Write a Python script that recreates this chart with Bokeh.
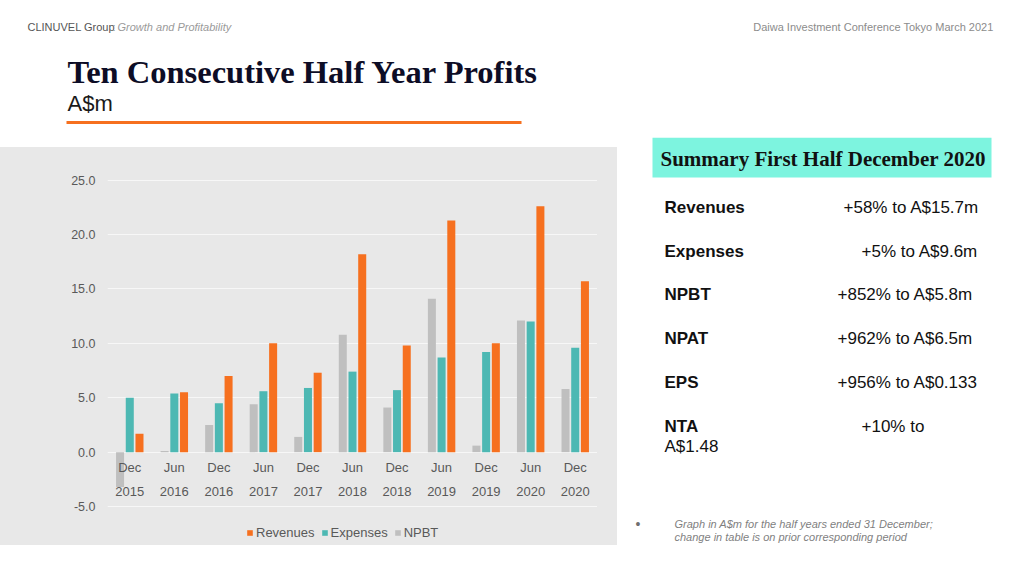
from bokeh.plotting import figure
from bokeh.models import (Range1d, FactorRange, FixedTicker, PrintfTickFormatter,
                          Legend, LegendItem, Spacer, ColumnDataSource)
from bokeh.layouts import column, row
from bokeh.transform import dodge
from bokeh.core.properties import value
from bokeh.embed import file_html
from bokeh.resources import INLINE

# ---------------- data ----------------
months = ["Dec", "Jun", "Dec", "Jun", "Dec", "Jun", "Dec", "Jun", "Dec", "Jun", "Dec"]
years = ["2015", "2016", "2016", "2017", "2017", "2018", "2018", "2019", "2019", "2020", "2020"]
npbt = [-3.2, 0.1, 2.5, 4.4, 1.4, 10.8, 4.1, 14.1, 0.6, 12.1, 5.8]
expenses = [5.0, 5.4, 4.5, 5.6, 5.9, 7.4, 5.7, 8.7, 9.2, 12.0, 9.6]
revenues = [1.7, 5.5, 7.0, 10.0, 7.3, 18.2, 9.8, 21.3, 10.0, 22.6, 15.7]
y_ticks = [-5, 0, 5, 10, 15, 20, 25]

summary_labels = ["Revenues", "Expenses", "NPBT", "NPAT", "EPS", "NTA"]
summary_values = ["+58% to A$15.7m", "+5% to A$9.6m", "+852% to A$5.8m",
                  "+962% to A$6.5m", "+956% to A$0.133", "+10% to"]

categories = [f"{m} {y}" for m, y in zip(months, years)]

ORANGE = "#F6701F"
TEAL = "#4DB8B3"
GRAY = "#BFBFBF"
BG = "#E8E8E8"
AXIS_TXT = "#595959"
SANS = value("Liberation Sans")
SERIF = value("Liberation Serif")


def blank(fig, bg="white", alpha=1.0):
    fig.grid.visible = False
    fig.background_fill_color = bg
    fig.border_fill_color = bg
    fig.background_fill_alpha = alpha
    fig.border_fill_alpha = alpha
    fig.outline_line_color = None
    return fig


# ---------------- header figure ----------------
top = blank(figure(width=1024, height=137, x_range=Range1d(0, 1024), y_range=Range1d(137, 0),
                   toolbar_location=None, output_backend="svg", min_border=0,
                   x_axis_location=None, y_axis_location=None))

top.text(x=[27], y=[26], text=["CLINUVEL Group"], text_font=SANS, text_font_size="11px",
         text_color="#555555", text_baseline="middle", text_align="left")
top.text(x=[112], y=[26], text=[":"], text_font=SANS, text_font_size="11px",
         text_color="#9a9a9a", text_baseline="middle", text_align="left")
top.text(x=[117], y=[26], text=["Growth and Profitability"], text_font=SANS,
         text_font_size="11px", text_font_style="italic", text_color="#9a9a9a",
         text_baseline="middle", text_align="left")
top.text(x=[993], y=[26], text=["Daiwa Investment Conference Tokyo March 2021"],
         text_font=SANS, text_font_size="11px", text_color="#8c8c8c",
         text_baseline="middle", text_align="right")
top.text(x=[67], y=[71], text=["Ten Consecutive Half Year Profits"], text_font=SERIF,
         text_font_size="32.5px", text_font_style="bold", text_color="#0d0d26",
         text_baseline="middle", text_align="left")
top.text(x=[67], y=[103], text=["A$m"], text_font=SANS, text_font_size="22px",
         text_color="#1a1a1a", text_baseline="middle", text_align="left")
top.quad(left=[66], right=[521], top=[120.5], bottom=[123.5], fill_color=ORANGE,
         line_color=None)

# ---------------- chart figure (transparent, gray panel comes from its container) --------
p = figure(width=597, height=398, x_range=FactorRange(factors=categories, range_padding=0),
           y_range=Range1d(-8.58, 28.0), toolbar_location=None, output_backend="svg",
           min_border_left=107, min_border_right=0, min_border_top=0, min_border_bottom=0,
           x_axis_location=None)
blank(p, BG, alpha=0.0)
p.ygrid.visible = True
p.xgrid.visible = False
p.ygrid.grid_line_color = "#F7F7F7"
p.ygrid.grid_line_width = 1.2
p.yaxis.ticker = FixedTicker(ticks=y_ticks)
p.yaxis.formatter = PrintfTickFormatter(format="%.1f")
p.yaxis.axis_line_color = None
p.yaxis.major_tick_line_color = None
p.yaxis.minor_tick_line_color = None
p.yaxis.major_label_standoff = 6
p.yaxis.major_label_text_font = "Liberation Sans"
p.yaxis.major_label_text_font_size = "12.5px"
p.yaxis.major_label_text_color = AXIS_TXT

src = ColumnDataSource(dict(cat=categories, month=months, year=years,
                            npbt=npbt, expenses=expenses, revenues=revenues))
bw = 0.18
off = 0.218
r_npbt = p.vbar(x=dodge("cat", -off, range=p.x_range), top="npbt", bottom=0, width=bw,
                source=src, fill_color=GRAY, line_color=None)
r_exp = p.vbar(x=dodge("cat", 0, range=p.x_range), top="expenses", bottom=0, width=bw,
               source=src, fill_color=TEAL, line_color=None)
r_rev = p.vbar(x=dodge("cat", off, range=p.x_range), top="revenues", bottom=0, width=bw,
               source=src, fill_color=ORANGE, line_color=None)

p.text(x="cat", y=-1.41, text="month", source=src, text_font=SANS, text_font_size="13px",
       text_color=AXIS_TXT, text_align="center", text_baseline="middle")
p.text(x="cat", y=-3.61, text="year", source=src, text_font=SANS, text_font_size="13px",
       text_color=AXIS_TXT, text_align="center", text_baseline="middle")

legend = Legend(items=[LegendItem(label="Revenues", renderers=[r_rev]),
                       LegendItem(label="Expenses", renderers=[r_exp]),
                       LegendItem(label="NPBT", renderers=[r_npbt])],
                orientation="horizontal", location=(139, 5),
                glyph_width=7, glyph_height=7, label_height=7, label_standoff=3,
                spacing=6, padding=0, margin=0, border_line_color=None,
                background_fill_alpha=0, label_text_font="Liberation Sans",
                label_text_font_size="13px", label_text_color=AXIS_TXT)
p.add_layout(legend)

chart_panel = row(p, Spacer(width=20, height=398), styles={"background-color": BG})

# ---------------- right summary figure ----------------
rf = blank(figure(width=407, height=439, x_range=Range1d(617, 1024), y_range=Range1d(576, 137),
                  toolbar_location=None, output_backend="svg", min_border=0,
                  x_axis_location=None, y_axis_location=None))

rf.quad(left=[652], right=[991], top=[137], bottom=[177], fill_color="#7DF4DF", line_color=None)
rf.text(x=[660], y=[158], text=["Summary First Half December 2020"], text_font=SERIF,
        text_font_size="21px", text_font_style="bold", text_color="#111111",
        text_align="left", text_baseline="middle")

row_y = [207, 251, 294, 338, 382, 426]
val_x = [843, 861, 837, 837, 837, 861]
rf.text(x=[664] * 6, y=row_y, text=summary_labels, text_font=SANS, text_font_size="17px",
        text_font_style="bold", text_color="#111111", text_align="left", text_baseline="middle")
rf.text(x=val_x, y=row_y, text=summary_values, text_font=SANS, text_font_size="17px",
        text_color="#111111", text_align="left", text_baseline="middle")
rf.text(x=[664], y=[446], text=["A$1.48"], text_font=SANS, text_font_size="17px",
        text_color="#111111", text_align="left", text_baseline="middle")

rf.text(x=[635], y=[523], text=["\u2022"], text_font=SANS, text_font_size="14px",
        text_color="#6f6f6f", text_align="left", text_baseline="middle")
rf.text(x=[674, 674], y=[523, 536],
        text=["Graph in A$m for the half years ended 31 December;",
              "change in table is on prior corresponding period"],
        text_font=SANS, text_font_size="11px", text_font_style="italic",
        text_color="#7f7f7f", text_align="left", text_baseline="middle")

layout = column(top, row(column(Spacer(width=617, height=10), chart_panel), rf))

open("out.html", "w").write(file_html(layout, INLINE))
